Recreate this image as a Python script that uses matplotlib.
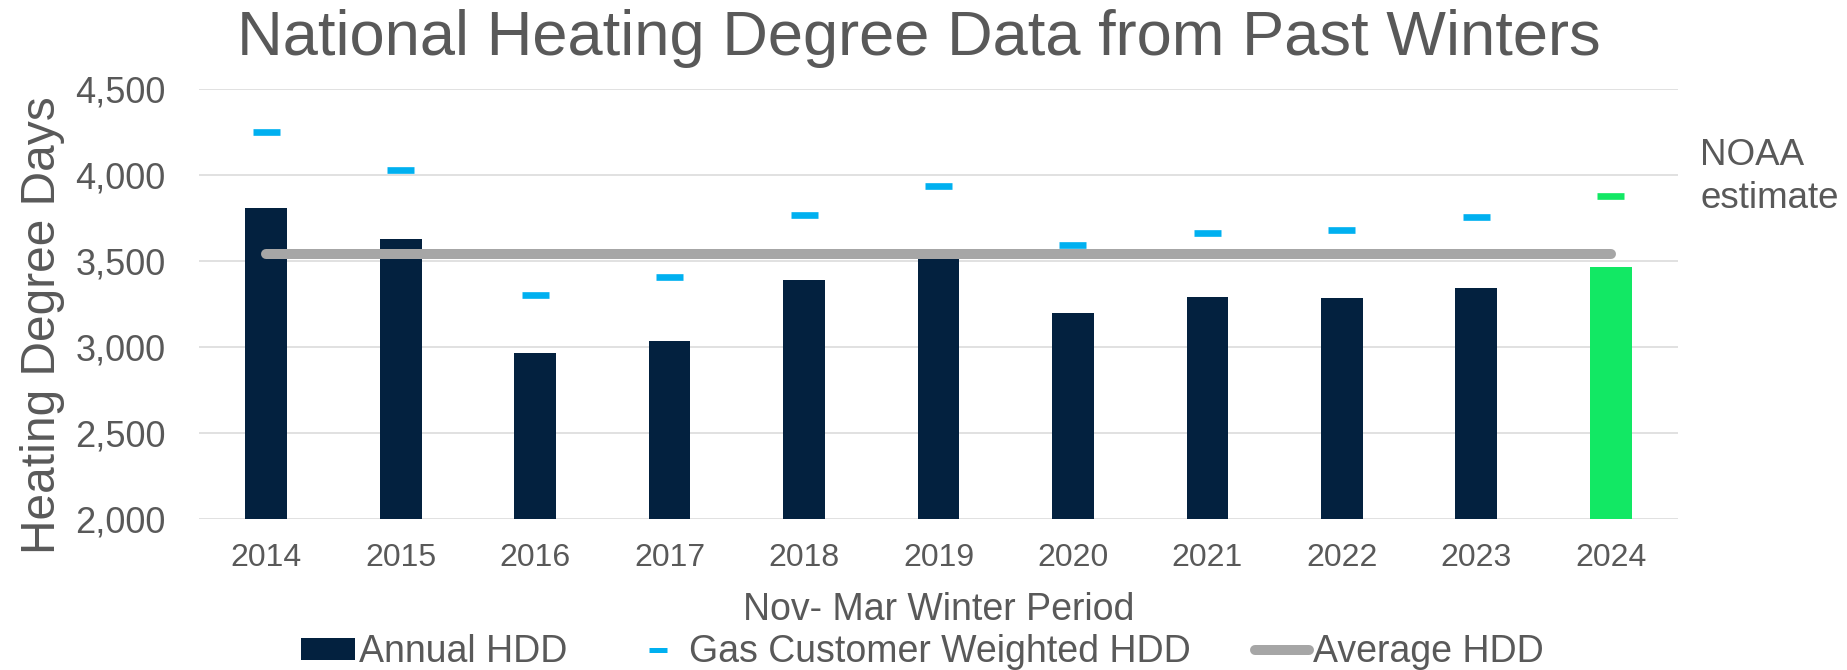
import matplotlib
matplotlib.use("Agg")
import matplotlib.pyplot as plt
from matplotlib.lines import Line2D
from matplotlib.patches import Patch
import numpy as np

plt.rcParams['font.family'] = ['Liberation Sans', 'DejaVu Sans']

# данные
years = ["2014", "2015", "2016", "2017", "2018", "2019", "2020", "2021", "2022", "2023", "2024"]
annual_hdd = [3810, 3628, 2965, 3035, 3390, 3530, 3199, 3291, 3285, 3345, 3467]
gas_weighted_hdd = [4248, 4029, 3304, 3407, 3769, 3934, 3593, 3666, 3680, 3756, 3880]
average_hdd = [3544] * len(years)
y_ticks = [2000, 2500, 3000, 3500, 4000, 4500]

navy = "#03213F"
blue = "#00B0F0"
green = "#12E864"
grey_line = "#A6A6A6"
text_col = "#595959"

bar_colors = [navy] * (len(years) - 1) + [green]
dash_colors = [blue] * (len(years) - 1) + [green]

fig = plt.figure(figsize=(18.47, 6.70), dpi=100)
ax = fig.add_axes([199 / 1847, 150.7 / 670, 1479 / 1847, 430.3 / 670])

x = np.arange(len(years))
ax.bar(x, annual_hdd, width=0.31, color=bar_colors, zorder=2)
ax.plot(x, average_hdd, color=grey_line, linewidth=7.2, solid_capstyle="round", zorder=3)
ax.scatter(x, gas_weighted_hdd, marker="_", s=19.5 ** 2, linewidths=4.8, color=dash_colors, zorder=4)

ax.set_xlim(-0.5, len(years) - 0.5)
ax.set_ylim(2000, 4500)
ax.set_yticks(y_ticks)
ax.set_yticklabels([f"{v:,}" for v in y_ticks])
ax.set_xticks(x)
ax.set_xticklabels(years)
ax.grid(axis="y", color="#D9D9D9", linewidth=1.1, zorder=0)
ax.set_axisbelow(True)
for s in ax.spines.values():
    s.set_visible(False)
ax.tick_params(axis="y", length=0, pad=24, labelsize=26, labelcolor=text_col)
ax.tick_params(axis="x", length=0, pad=17, labelsize=23, labelcolor=text_col)

# подписи
fig.text(919 / 1847, 1 - 55 / 670, "National Heating Degree Data from Past Winters",
         ha="center", va="baseline", fontsize=45.5, color=text_col)
fig.text(43 / 1847, 1 - 325 / 670, "Heating Degree Days", rotation=90,
         ha="center", va="center", fontsize=34.5, color=text_col)
fig.text(938.5 / 1847, 1 - 620 / 670, "Nov- Mar Winter Period",
         ha="center", va="baseline", fontsize=27, color=text_col)
fig.text(1700 / 1847, 1 - 165 / 670, "NOAA", ha="left", va="baseline", fontsize=26.5, color=text_col)
fig.text(1700 / 1847, 1 - 208 / 670, "estimate", ha="left", va="baseline", fontsize=26.5, color=text_col)

handles = [
    Patch(facecolor=navy, edgecolor="none"),
    Line2D([], [], linestyle="none", marker="_", markersize=13.5, markeredgewidth=3.6, color=blue),
    Line2D([], [], color=grey_line, linewidth=7.2, solid_capstyle="round"),
]
labels = ["Annual HDD", "Gas Customer Weighted HDD", "Average HDD"]
fig.legend(handles, labels, loc="center", bbox_to_anchor=(922 / 1847, 1 - 652 / 670), ncol=3,
           frameon=False, fontsize=27, labelcolor=text_col, handlelength=1.45, handleheight=0.52,
           handletextpad=0.1, columnspacing=1.7, borderpad=0, borderaxespad=0)

plt.savefig("out.png", dpi=100)
